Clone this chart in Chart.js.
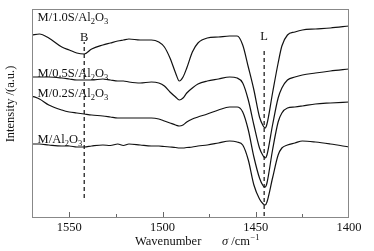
<!DOCTYPE html>
<html>
<head>
<meta charset="utf-8">
<script src="https://cdn.jsdelivr.net/npm/chart.js@4.4.1/dist/chart.umd.min.js"></script>
<style>
html, body { margin: 0; padding: 0; background: #fff; }
#wrap { width: 374px; height: 251px; }
</style>
</head>
<body>
<div id="wrap"><canvas id="chart" width="374" height="251"></canvas></div>
<script>
// wavenumber grid (cm-1)
const wavenumbers = [1570, 1566, 1561, 1554, 1550, 1546, 1542, 1538, 1532, 1528,
    1524, 1521, 1518, 1512, 1506, 1502, 1499, 1496, 1493, 1491,
    1489, 1487, 1484, 1481, 1476, 1470, 1464, 1460, 1457, 1454,
    1451, 1448, 1446, 1445, 1444, 1441, 1438, 1436, 1433, 1429,
    1425, 1418, 1410, 1400];

// intensity, arbitrary units
const m10s = [182, 183, 179, 170, 167, 164, 163, 168, 172, 174,
    176, 177, 178, 177, 177, 175, 170, 159, 144, 136,
    140, 149, 165, 174, 179, 180, 181, 181, 172, 150,
    127, 100, 91, 89, 93, 124, 154, 171, 182, 185,
    187, 188, 189, 191];
const m05s = [140, 140, 140, 139, 138, 137, 137, 137, 138, 137,
    136, 136, 135, 134, 135, 134, 131, 125, 120, 117,
    119, 124, 129, 133, 136, 138, 140, 139, 134, 117,
    92, 69, 61, 59, 62, 92, 119, 129, 137, 140,
    142, 144, 146, 148];
const m02s = [121, 118, 112, 107, 105, 104, 103, 102, 101, 100,
    99, 99, 99, 99, 99, 98, 96, 94, 92, 91,
    92, 95, 98, 100, 103, 107, 110, 110, 105, 87,
    60, 39, 31, 30, 34, 67, 95, 104, 109, 110,
    111, 113, 114, 115];
const m00s = [73, 73, 72, 71, 71, 70, 70, 71, 72, 71.5,
    73, 71.5, 73, 72, 71, 71, 70.5, 70, 69.5, 69,
    69, 69.5, 70, 71, 72, 74, 76, 75, 72, 57,
    32, 18, 13, 12, 15, 39, 62, 69, 72, 74,
    76, 75, 73, 70];

// band markers
const bandB = 1542;
const bandBSpan = [19, 175];
const bandL = 1445.5;
const bandLSpan = [1, 169];

const xMajorTicks = [1550, 1500, 1450, 1400];

const FONT = '"Liberation Serif", "Times New Roman", serif';

const points = (ys) => wavenumbers.map((w, i) => ({ x: w, y: ys[i] }));

function curve(ys) {
    return {
        data: points(ys),
        borderColor: '#111',
        borderWidth: 1.2,
        pointRadius: 0,
        cubicInterpolationMode: 'monotone',
        fill: false,
    };
}

function band(x, span) {
    return {
        data: [{ x: x, y: span[0] }, { x: x, y: span[1] }],
        borderColor: '#111',
        borderWidth: 1.2,
        borderDash: [4, 3],
        pointRadius: 0,
        fill: false,
    };
}

// text with chemical subscripts: parts = [[text, isSub], ...]
function drawChem(ctx, parts, x, y) {
    let cx = x;
    parts.forEach(([t, sub]) => {
        ctx.font = sub ? '8.5px ' + FONT : '12.5px ' + FONT;
        ctx.fillText(t, cx, sub ? y + 3 : y);
        cx += ctx.measureText(t).width;
    });
}

const decorations = {
    id: 'decorations',
    afterDraw(chart) {
        const ctx = chart.ctx;
        const a = chart.chartArea;
        const xs = chart.scales.x;
        const ys = chart.scales.y;
        ctx.save();

        // frame
        ctx.strokeStyle = '#888';
        ctx.lineWidth = 1;
        ctx.strokeRect(a.left + 0.5, a.top + 0.5, a.right - a.left - 1, a.bottom - a.top);

        // inward tick marks
        ctx.strokeStyle = '#666';
        xs.ticks.forEach(t => {
            if (t.value === 1400) return;
            const px = Math.round(xs.getPixelForValue(t.value)) + 0.5;
            const len = xMajorTicks.includes(t.value) ? 5 : 3;
            ctx.beginPath();
            ctx.moveTo(px, a.bottom);
            ctx.lineTo(px, a.bottom - len);
            ctx.stroke();
        });

        ctx.fillStyle = '#111';
        ctx.textBaseline = 'alphabetic';
        ctx.textAlign = 'left';
        const lx = xs.getPixelForValue(1567);
        drawChem(ctx, [['M/1.0S/Al', 0], ['2', 1], ['O', 0], ['3', 1]], lx, ys.getPixelForValue(196));
        drawChem(ctx, [['M/0.5S/Al', 0], ['2', 1], ['O', 0], ['3', 1]], lx, ys.getPixelForValue(140));
        drawChem(ctx, [['M/0.2S/Al', 0], ['2', 1], ['O', 0], ['3', 1]], lx, ys.getPixelForValue(120));
        drawChem(ctx, [['M/Al', 0], ['2', 1], ['O', 0], ['3', 1]], lx, ys.getPixelForValue(74));

        // band letters
        ctx.font = '12.5px ' + FONT;
        ctx.textAlign = 'center';
        ctx.fillText('B', xs.getPixelForValue(bandB), ys.getPixelForValue(176));
        ctx.fillText('L', xs.getPixelForValue(bandL), ys.getPixelForValue(177));

        // x title
        ctx.textAlign = 'left';
        ctx.font = '12.5px ' + FONT;
        ctx.fillText('Wavenumber', 135, 245);
        ctx.font = 'italic 12.5px ' + FONT;
        ctx.fillText('σ', 222, 245);
        let cx = 222 + ctx.measureText('σ').width;
        ctx.font = '12.5px ' + FONT;
        ctx.fillText(' /cm', cx, 245);
        cx += ctx.measureText(' /cm').width;
        ctx.font = '8.5px ' + FONT;
        ctx.fillText('\u22121', cx + 0.5, 240);

        // y title
        ctx.translate(11, 104);
        ctx.rotate(-Math.PI / 2);
        ctx.textAlign = 'center';
        ctx.textBaseline = 'middle';
        ctx.font = '12.5px ' + FONT;
        ctx.fillText('Intensity /(a.u.)', 0, 0);
        ctx.restore();
    }
};

new Chart(document.getElementById('chart'), {
    type: 'line',
    data: {
        datasets: [
            curve(m10s),
            curve(m05s),
            curve(m02s),
            curve(m00s),
            band(bandB, bandBSpan),
            band(bandL, bandLSpan),
        ],
    },
    options: {
        responsive: false,
        devicePixelRatio: 1,
        animation: false,
        events: [],
        layout: { padding: { left: 32, right: 25, top: 9, bottom: 0 } },
        plugins: { legend: { display: false }, tooltip: { enabled: false } },
        scales: {
            x: {
                type: 'linear',
                reverse: true,
                min: 1400,
                max: 1570,
                grid: { display: false, drawTicks: false },
                border: { display: false },
                ticks: {
                    stepSize: 25,
                    includeBounds: false,
                    autoSkip: false,
                    maxRotation: 0,
                    padding: 3,
                    color: '#111',
                    font: { family: FONT, size: 12.5 },
                    callback: (v) => xMajorTicks.includes(v) ? String(v) : '',
                },
                afterFit: (s) => { s.height = 34; },
            },
            y: {
                display: false,
                min: 0,
                max: 208,
            },
        },
    },
    plugins: [decorations],
});
</script>
</body>
</html>
